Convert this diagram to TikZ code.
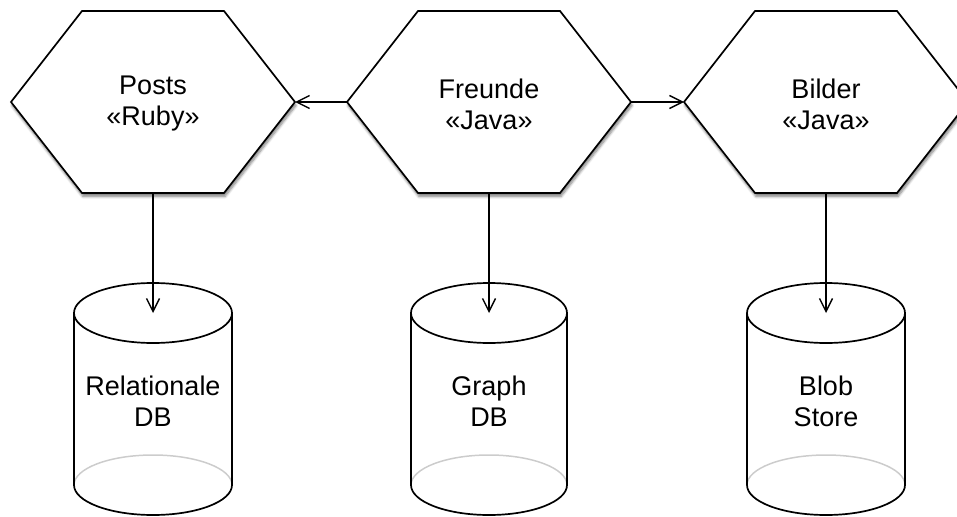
\documentclass[tikz,border=0pt]{standalone}
\usepackage{fontspec}
\setmainfont{Liberation Sans}
\usetikzlibrary{arrows.meta,shadows.blur}

\begin{document}
\begin{tikzpicture}[x=1pt,y=1pt,yscale=-1,xscale=1,
  hexa/.style={draw=black,line width=1.7,fill=white,line join=miter,
    blur shadow={shadow xshift=1pt,shadow yshift=-3.5pt,shadow opacity=50,shadow blur steps=6,shadow blur radius=2.5pt}},
  cyl/.style={draw=black,line width=1.7},
  back/.style={draw={rgb,255:red,204;green,204;blue,204},line width=1.5},
  lbl/.style={align=center,font=\fontsize{27}{31}\selectfont,inner sep=0},
  conn/.style={line width=1.4,-{Straight Barb[length=13,width=13,line width=1.4]}}]
\useasboundingbox (0,0) rectangle (957,516);

% Hexagon Posts
\draw [hexa] (11,102) -- (82,11) -- (224,11) -- (295,102) -- (224,193) -- (82,193) -- cycle ;
\coordinate (posts-e) at (295,102);
\coordinate (posts-s) at (153,193);
\node [lbl] (posts) at (153,104) {Posts\\«Ruby»};

% Hexagon Freunde
\draw [hexa] (347,102) -- (418,11) -- (560,11) -- (631,102) -- (560,193) -- (418,193) -- cycle ;
\coordinate (freunde-w) at (347,102);
\coordinate (freunde-e) at (631,102);
\coordinate (freunde-s) at (489,193);
\node [lbl] (freunde) at (489,104) {Freunde\\«Java»};

% Hexagon Bilder
\draw [hexa] (684,102) -- (755,11) -- (897,11) -- (968,102) -- (897,193) -- (755,193) -- cycle ;
\coordinate (bilder-w) at (684,102);
\coordinate (bilder-s) at (826,193);
\node [lbl] (bilder) at (826,104) {Bilder\\«Java»};

% Cylinder Relationale DB
\draw [back] (74,485) arc [start angle=180,end angle=360,x radius=79,y radius=30] ;
\draw [cyl] (74,313) -- (74,485) arc [start angle=180,end angle=0,x radius=79,y radius=30] -- (232,313) ;
\draw [cyl] (153,313) ellipse [x radius=79,y radius=30] ;
\coordinate (reldb-top) at (153,313);
\node [lbl] (reldb) at (153,401) {Relationale\\DB};

% Cylinder Graph DB
\draw [back] (411,485) arc [start angle=180,end angle=360,x radius=78,y radius=30] ;
\draw [cyl] (411,313) -- (411,485) arc [start angle=180,end angle=0,x radius=78,y radius=30] -- (567,313) ;
\draw [cyl] (489,313) ellipse [x radius=78,y radius=30] ;
\coordinate (graphdb-top) at (489,313);
\node [lbl] (graphdb) at (489,401) {Graph\\DB};

% Cylinder Blob Store
\draw [back] (747,485) arc [start angle=180,end angle=360,x radius=79,y radius=30] ;
\draw [cyl] (747,313) -- (747,485) arc [start angle=180,end angle=0,x radius=79,y radius=30] -- (905,313) ;
\draw [cyl] (826,313) ellipse [x radius=79,y radius=30] ;
\coordinate (blob-top) at (826,313);
\node [lbl] (blob) at (826,401) {Blob\\Store};

% Straight Lines
\draw [conn] (freunde-w) -- (posts-e) ;
\draw [conn] (freunde-e) -- (bilder-w) ;
\draw [conn] (posts-s) -- (reldb-top) ;
\draw [conn] (freunde-s) -- (graphdb-top) ;
\draw [conn] (bilder-s) -- (blob-top) ;

\end{tikzpicture}
\end{document}
